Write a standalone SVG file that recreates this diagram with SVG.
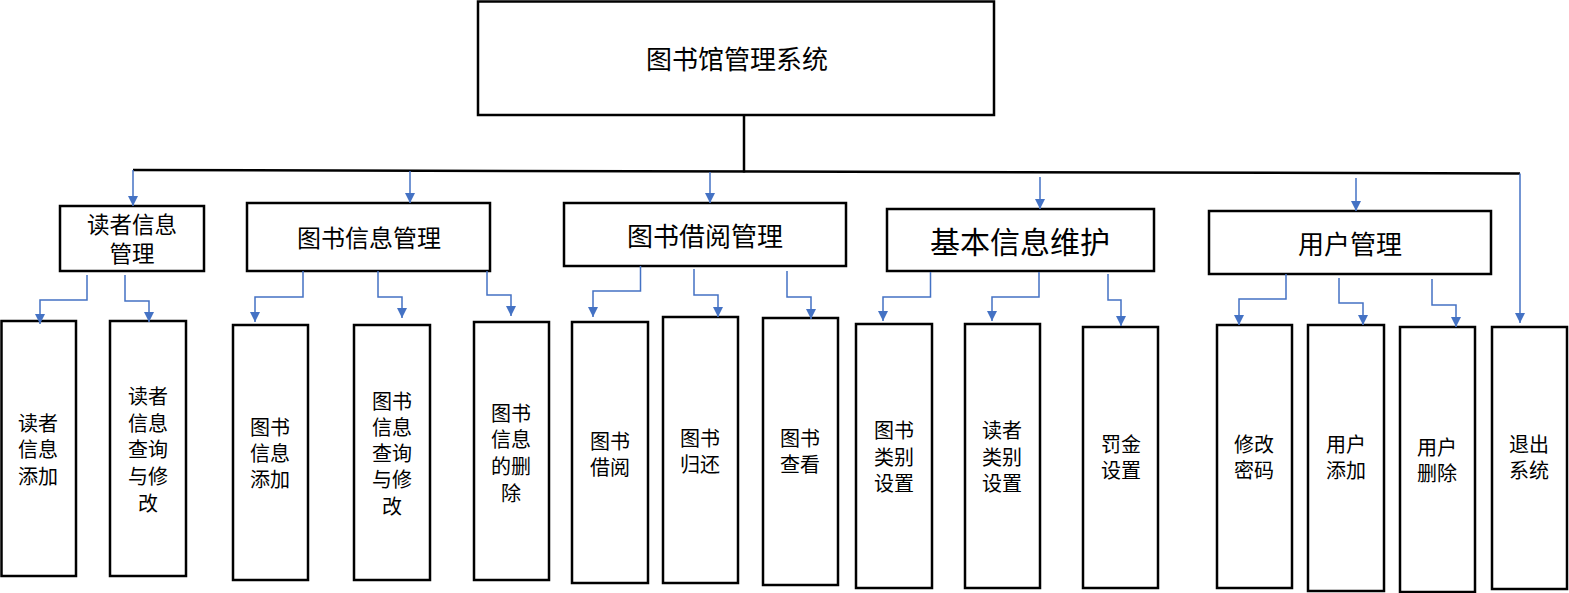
<svg xmlns="http://www.w3.org/2000/svg" width="1569" height="593" viewBox="0 0 1569 593">
<style>
.box{fill:#fff;stroke:#000;stroke-width:2.5}
text{font-family:"Noto Sans CJK SC","Liberation Sans",sans-serif;fill:#000;text-anchor:middle;dominant-baseline:central}
.t1{font-size:26px}
.t2{font-size:23px}
.t3{font-size:20px}
.trunk{stroke:#000;stroke-width:2.5;fill:none}
.c{stroke:#4472C4;stroke-width:1.5;fill:none;marker-end:url(#ah)}
</style>
<defs>
<marker id="ah" markerUnits="userSpaceOnUse" markerWidth="10" markerHeight="10" refX="10" refY="5" orient="auto" viewBox="0 0 10 10">
<path d="M0,0 L10,5 L0,10 z" fill="#4472C4"/>
</marker>
</defs>
<rect width="1569" height="593" fill="#fff"/>

<g id="root"><rect class="box" x="478" y="1.5" width="516" height="113.5"/><text class="t1" x="737" y="57">图书馆管理系统</text></g>

<g id="n1"><rect class="box" x="60" y="206" width="144" height="65"/><text x="132" y="223" style="font-size:22.5px">读者信息</text><text x="132" y="252" style="font-size:22.5px">管理</text></g>
<g id="n2"><rect class="box" x="247" y="203" width="243" height="68"/><text x="369" y="236" style="font-size:24px">图书信息管理</text></g>
<g id="n3"><rect class="box" x="564" y="203" width="282" height="63"/><text x="705" y="234" style="font-size:26px">图书借阅管理</text></g>
<g id="n4"><rect class="box" x="887" y="209" width="267" height="62"/><text x="1020" y="240" style="font-size:30px">基本信息维护</text></g>
<g id="n5"><rect class="box" x="1209" y="211" width="282" height="63"/><text x="1350" y="242" style="font-size:26px">用户管理</text></g>

<g id="b1"><rect class="box" x="1.5" y="321" width="74.5" height="255"/><text class="t3" x="38" y="422">读者</text><text class="t3" x="38" y="448">信息</text><text class="t3" x="38" y="475">添加</text></g>
<g id="b2"><rect class="box" x="110" y="321" width="76" height="255"/><text class="t3" x="148" y="395">读者</text><text class="t3" x="148" y="422">信息</text><text class="t3" x="148" y="448">查询</text><text class="t3" x="148" y="475">与修</text><text class="t3" x="148" y="502">改</text></g>
<g id="b3"><rect class="box" x="233" y="325" width="75" height="255"/><text class="t3" x="270" y="426">图书</text><text class="t3" x="270" y="452">信息</text><text class="t3" x="270" y="478">添加</text></g>
<g id="b4"><rect class="box" x="354" y="325" width="76" height="255"/><text class="t3" x="392" y="400">图书</text><text class="t3" x="392" y="426">信息</text><text class="t3" x="392" y="452">查询</text><text class="t3" x="392" y="478">与修</text><text class="t3" x="392" y="505">改</text></g>
<g id="b5"><rect class="box" x="474" y="322" width="75" height="258"/><text class="t3" x="511" y="412">图书</text><text class="t3" x="511" y="438">信息</text><text class="t3" x="511" y="465">的删</text><text class="t3" x="511" y="492">除</text></g>
<g id="b6"><rect class="box" x="572" y="322" width="76" height="261"/><text class="t3" x="610" y="440">图书</text><text class="t3" x="610" y="466">借阅</text></g>
<g id="b7"><rect class="box" x="663" y="317" width="75" height="266"/><text class="t3" x="700" y="437">图书</text><text class="t3" x="700" y="463">归还</text></g>
<g id="b8"><rect class="box" x="763" y="318" width="75" height="267"/><text class="t3" x="800" y="437">图书</text><text class="t3" x="800" y="463">查看</text></g>
<g id="b9"><rect class="box" x="856" y="324" width="76" height="264"/><text class="t3" x="894" y="429">图书</text><text class="t3" x="894" y="456">类别</text><text class="t3" x="894" y="482">设置</text></g>
<g id="b10"><rect class="box" x="965" y="324" width="75" height="264"/><text class="t3" x="1002" y="429">读者</text><text class="t3" x="1002" y="456">类别</text><text class="t3" x="1002" y="482">设置</text></g>
<g id="b11"><rect class="box" x="1083" y="327" width="75" height="261"/><text class="t3" x="1121" y="443">罚金</text><text class="t3" x="1121" y="469">设置</text></g>
<g id="b12"><rect class="box" x="1217" y="325" width="75" height="263"/><text class="t3" x="1254" y="443">修改</text><text class="t3" x="1254" y="469">密码</text></g>
<g id="b13"><rect class="box" x="1308" y="325" width="76" height="266"/><text class="t3" x="1346" y="443">用户</text><text class="t3" x="1346" y="469">添加</text></g>
<g id="b14"><rect class="box" x="1400" y="327" width="75" height="265"/><text class="t3" x="1437" y="446">用户</text><text class="t3" x="1437" y="472">删除</text></g>
<g id="b15"><rect class="box" x="1492" y="327" width="75" height="262"/><text class="t3" x="1529" y="443">退出</text><text class="t3" x="1529" y="469">系统</text></g>

<g id="connectors">
<line class="trunk" x1="744" y1="115" x2="744" y2="172.5"/>
<line class="trunk" x1="133" y1="170" x2="1520" y2="173.5"/>
<path class="c" d="M133,170 V206"/>
<path class="c" d="M410,171 V203"/>
<path class="c" d="M710,172 V203"/>
<path class="c" d="M1040,177 V209"/>
<path class="c" d="M1356,178 V211"/>
<path class="c" d="M1520,173.5 V323"/>
<path class="c" d="M87,275 V300 H40 V324"/>
<path class="c" d="M125,275 V301 H149 V322"/>
<path class="c" d="M303,271 V297 H255 V322"/>
<path class="c" d="M378,271 V297 H402 V318"/>
<path class="c" d="M487,271 V295 H511 V316"/>
<path class="c" d="M640.5,266 V291 H593 V317"/>
<path class="c" d="M694,269 V295 H718 V317"/>
<path class="c" d="M787,271 V297 H811 V319"/>
<path class="c" d="M930.5,272 V297 H883 V321"/>
<path class="c" d="M1039,272 V297 H992 V321"/>
<path class="c" d="M1108,274 V300 H1121 V326"/>
<path class="c" d="M1286,274 V299 H1239 V325"/>
<path class="c" d="M1339,278 V303 H1363 V325"/>
<path class="c" d="M1432,279 V305 H1456 V327"/>
</g>
</svg>
